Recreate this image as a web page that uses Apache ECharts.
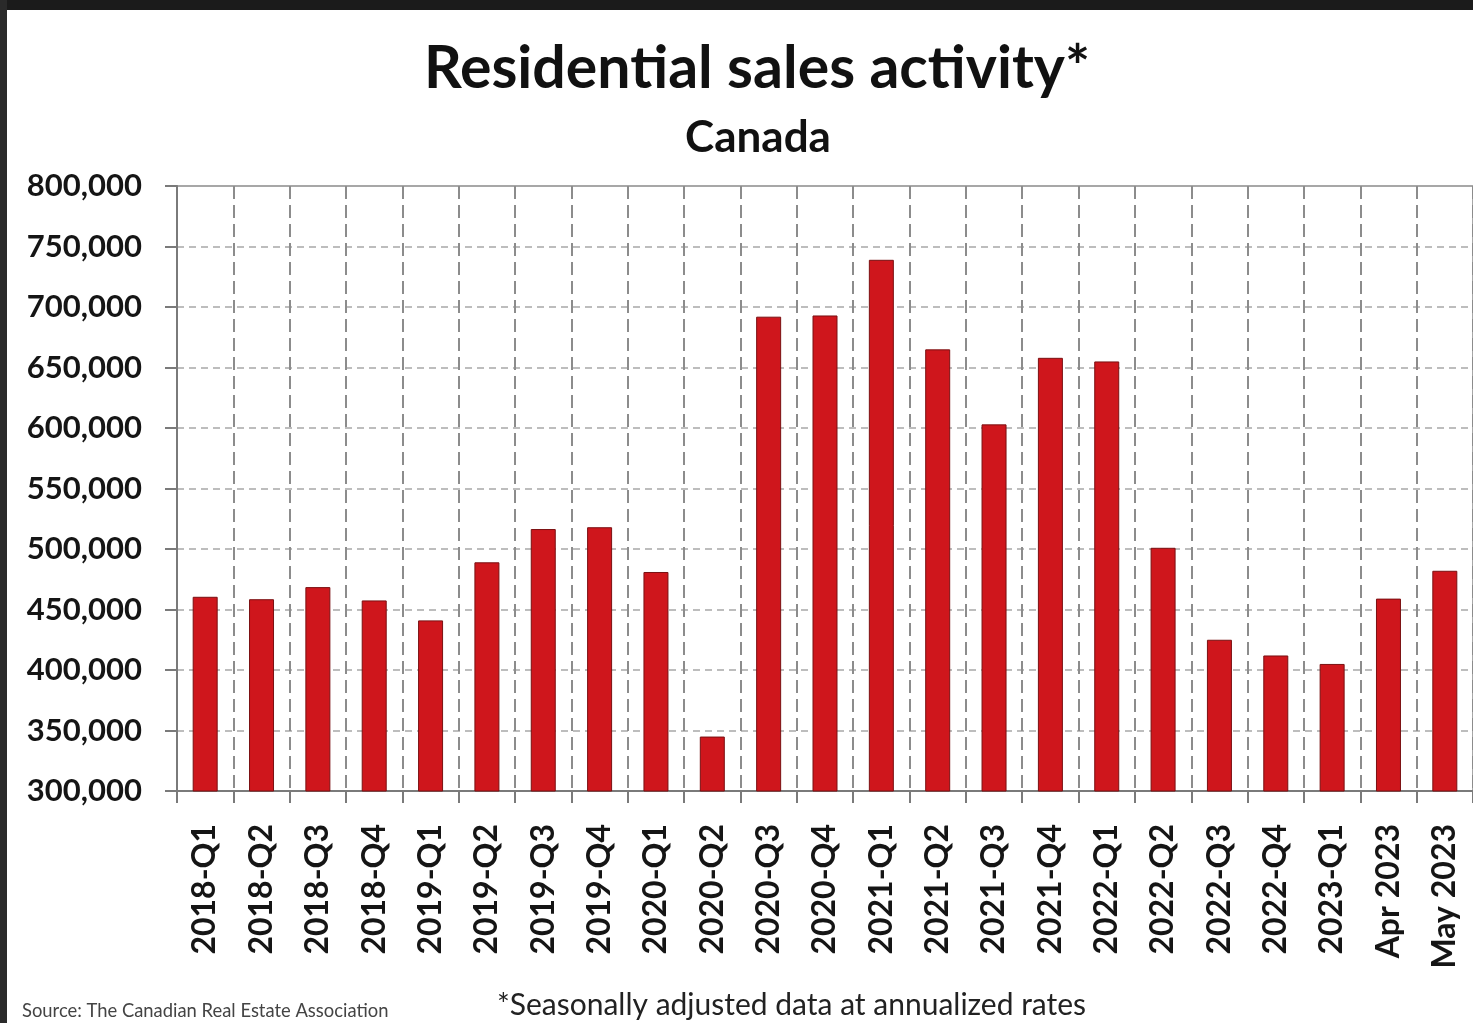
<!DOCTYPE html>
<html>
<head>
<meta charset="utf-8">
<title>Residential sales activity</title>
<script src="https://cdn.jsdelivr.net/npm/echarts@6/dist/echarts.min.js"></script>
<style>
  html, body { margin: 0; padding: 0; background: #ffffff; }
  #chart { width: 1473px; height: 1023px; }
</style>
</head>
<body>
<div id="chart"></div>
<script>
// Periods shown on the category axis
const periods = [
  '2018-Q1', '2018-Q2', '2018-Q3', '2018-Q4',
  '2019-Q1', '2019-Q2', '2019-Q3', '2019-Q4',
  '2020-Q1', '2020-Q2', '2020-Q3', '2020-Q4',
  '2021-Q1', '2021-Q2', '2021-Q3', '2021-Q4',
  '2022-Q1', '2022-Q2', '2022-Q3', '2022-Q4',
  '2023-Q1', 'Apr 2023', 'May 2023'
];

// Residential sales, seasonally adjusted at annualized rates
const sales = [
  460500, 458500, 468500, 457500,
  441000, 489000, 516500, 518000,
  481000, 345000, 692000, 693000,
  739000, 665000, 603000, 658000,
  655000, 501000, 425000, 412000,
  405000, 459000, 482000
];

// Value axis range and step
const yMin = 300000;
const yMax = 800000;
const yStep = 50000;

const FONT = 'Lato, "Open Sans", sans-serif';

const chart = echarts.init(document.getElementById('chart'), null, { renderer: 'canvas' });

chart.setOption({
  backgroundColor: '#ffffff',
  animation: false,
  title: [
    {
      text: 'Residential sales activity*',
      left: 752, top: 34, textAlign: 'center',
      textStyle: { fontFamily: FONT, fontWeight: 'bold', fontSize: 59, color: '#111111' }
    },
    {
      text: 'Canada',
      left: 753, top: 111, textAlign: 'center',
      textStyle: { fontFamily: FONT, fontWeight: 'bold', fontSize: 44, color: '#111111' }
    }
  ],
  graphic: [
    // dark frame around the slide
    { type: 'rect', left: 0, top: 0, shape: { width: 1473, height: 10 }, style: { fill: '#1b1b1b' }, z: 100 },
    { type: 'rect', left: 0, top: 0, shape: { width: 7, height: 1023 }, style: { fill: '#2a2a2a' }, z: 100 },
    {
      type: 'text', left: 22, top: 1002,
      style: { text: 'Source: The Canadian Real Estate Association', font: '18.4px ' + FONT, fill: '#444444' }
    },
    {
      type: 'text', left: 497, top: 990,
      style: { text: '*Seasonally adjusted data at annualized rates', font: '30px ' + FONT, fill: '#222222' }
    }
  ],
  grid: {
    left: 177, top: 186, right: -5, bottom: 232,
    show: true, borderColor: '#8a8a8a', borderWidth: 1.5,
    containLabel: false
  },
  xAxis: {
    type: 'category',
    data: periods,
    boundaryGap: true,
    axisLine: { show: true, lineStyle: { color: '#7a7a7a', width: 2 } },
    axisTick: { show: true, length: 12, alignWithLabel: false, lineStyle: { color: '#7a7a7a', width: 2 } },
    splitLine: { show: true, lineStyle: { color: '#8c8c8c', width: 2, type: [13, 6] } },
    axisLabel: {
      rotate: 90, interval: 0, margin: 33,
      fontFamily: FONT, fontWeight: 'bold', fontSize: 32, color: '#151515'
    }
  },
  yAxis: {
    type: 'value',
    min: yMin, max: yMax, interval: yStep,
    axisLine: { show: true, lineStyle: { color: '#7a7a7a', width: 2 } },
    axisTick: { show: true, length: 12, lineStyle: { color: '#7a7a7a', width: 2 } },
    splitLine: { show: true, lineStyle: { color: '#a8a8a8', width: 1.5, type: [7, 5] } },
    axisLabel: {
      margin: 35,
      fontFamily: FONT, fontWeight: 'bold', fontSize: 31, color: '#151515',
      formatter: v => v.toLocaleString('en-US')
    }
  },
  series: [
    {
      type: 'bar',
      data: sales,
      barWidth: 25,
      itemStyle: { color: '#cf161c', borderColor: '#7a1012', borderWidth: 1 }
    }
  ]
});
</script>
</body>
</html>
